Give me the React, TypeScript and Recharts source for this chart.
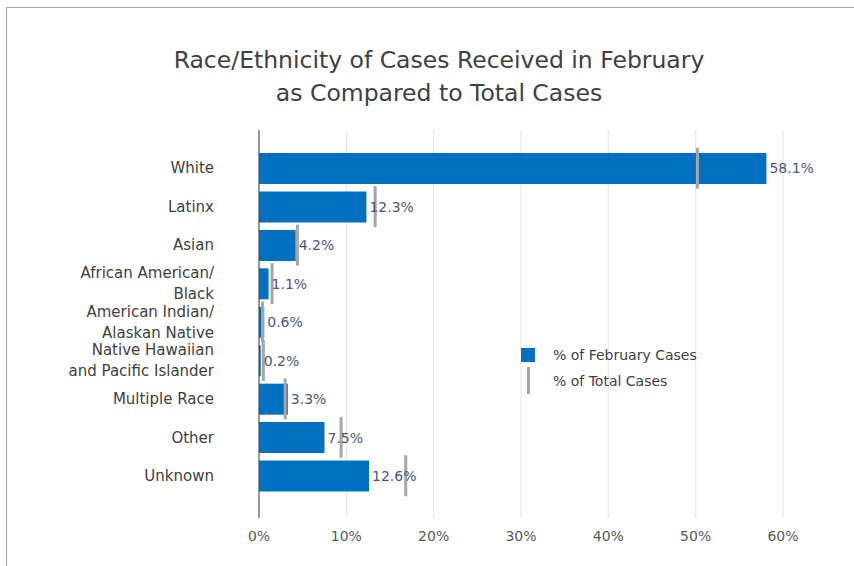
import React from 'react';
import { ComposedChart, Bar, Line, XAxis, YAxis, CartesianGrid, LabelList } from 'recharts';

const categories = [
  'White',
  'Latinx',
  'Asian',
  'African American/\nBlack',
  'American Indian/\nAlaskan Native',
  'Native Hawaiian\nand Pacific Islander',
  'Multiple Race',
  'Other',
  'Unknown',
];
const febPct = [58.1, 12.3, 4.2, 1.1, 0.6, 0.2, 3.3, 7.5, 12.6];
const totalPct = [50.2, 13.3, 4.4, 1.5, 0.4, 0.5, 3.0, 9.4, 16.8];
const xTicks = [0, 10, 20, 30, 40, 50, 60];

const data = categories.map((name, i) => ({ name, feb: febPct[i], total: totalPct[i] }));

const FONT = '"DejaVu Sans", sans-serif';
const BLUE = '#0070c0';
const GREY = '#a6a6a6';

// category labels, split on \n and centred on the band
const CatTick = (props: any) => {
  const { x, y, payload } = props;
  const lines: string[] = String(payload.value).split('\n');
  const lh = 21;
  const start = y - ((lines.length - 1) * lh) / 2;
  return (
    <text x={x} textAnchor="end" fill="#404040" fontSize={15} fontFamily={FONT}>
      {lines.map((l, i) => (
        <tspan key={i} x={x} y={start + i * lh} dy="0.35em">{l}</tspan>
      ))}
    </text>
  );
};

// "% of total" marker: short vertical grey bar at the value
const Marker = (props: any) => {
  const { cx, cy } = props;
  if (cx == null || cy == null) return null;
  return <rect x={cx - 1.5} y={cy - 20.5} width={3} height={41} fill={GREY} />;
};

const LegendBox = () => (
  <div style={{ position: 'absolute', left: 521, top: 345, fontFamily: FONT, fontSize: 14, color: '#404040' }}>
    <div style={{ display: 'flex', alignItems: 'center', height: 20 }}>
      <span style={{ display: 'inline-block', width: 14, height: 14, background: BLUE, marginRight: 18 }} />
      <span>% of February Cases</span>
    </div>
    <div style={{ display: 'flex', alignItems: 'center', height: 27, marginTop: 2 }}>
      <span style={{ display: 'inline-block', width: 3, height: 27, background: GREY, marginLeft: 5.5, marginRight: 23.5 }} />
      <span>% of Total Cases</span>
    </div>
  </div>
);

export default function App() {
  return (
    <div style={{ position: 'absolute', left: 0, top: 0, width: 854, height: 566, overflow: 'hidden', background: '#fff' }}>
      <div style={{ position: 'absolute', left: 6, top: 7, width: 900, height: 600, border: '1.5px solid #a6a6a6' }} />
      <div style={{ position: 'absolute', left: 0, top: 44, width: 878, textAlign: 'center', fontFamily: FONT, fontSize: 23.5, color: '#404040', lineHeight: '33px' }}>
        Race/Ethnicity of Cases Received in February<br />as Compared to Total Cases
      </div>
      <div style={{ position: 'absolute', left: 0, top: 0 }}>
        <ComposedChart width={854} height={566} data={data} layout="vertical" margin={{ top: 130, right: 71, bottom: 18, left: 0 }}>
          <CartesianGrid horizontal={false} stroke="#e4e4e4" />
          <XAxis type="number" domain={[0, 60]} ticks={xTicks} tickFormatter={(v: number) => `${v}%`} axisLine={false} tickLine={false} tickMargin={7} height={30} tick={{ fill: '#595959', fontSize: 14, fontFamily: FONT }} />
          <YAxis type="category" dataKey="name" width={259} axisLine={{ stroke: '#404040' }} tickLine={false} tickSize={0} tickMargin={45} padding={{ top: 19, bottom: 23 }} tick={<CatTick />} interval={0} />
          <Bar dataKey="feb" fill={BLUE} barSize={31} isAnimationActive={false}>
            <LabelList dataKey="feb" position="right" offset={3} formatter={(v: any) => `${Number(v).toFixed(1)}%`} fill="#4d5480" fontSize={14} fontFamily={FONT} />
          </Bar>
          <Line dataKey="total" stroke="none" dot={<Marker />} activeDot={false} isAnimationActive={false} />
        </ComposedChart>
      </div>
      <LegendBox />
    </div>
  );
}
